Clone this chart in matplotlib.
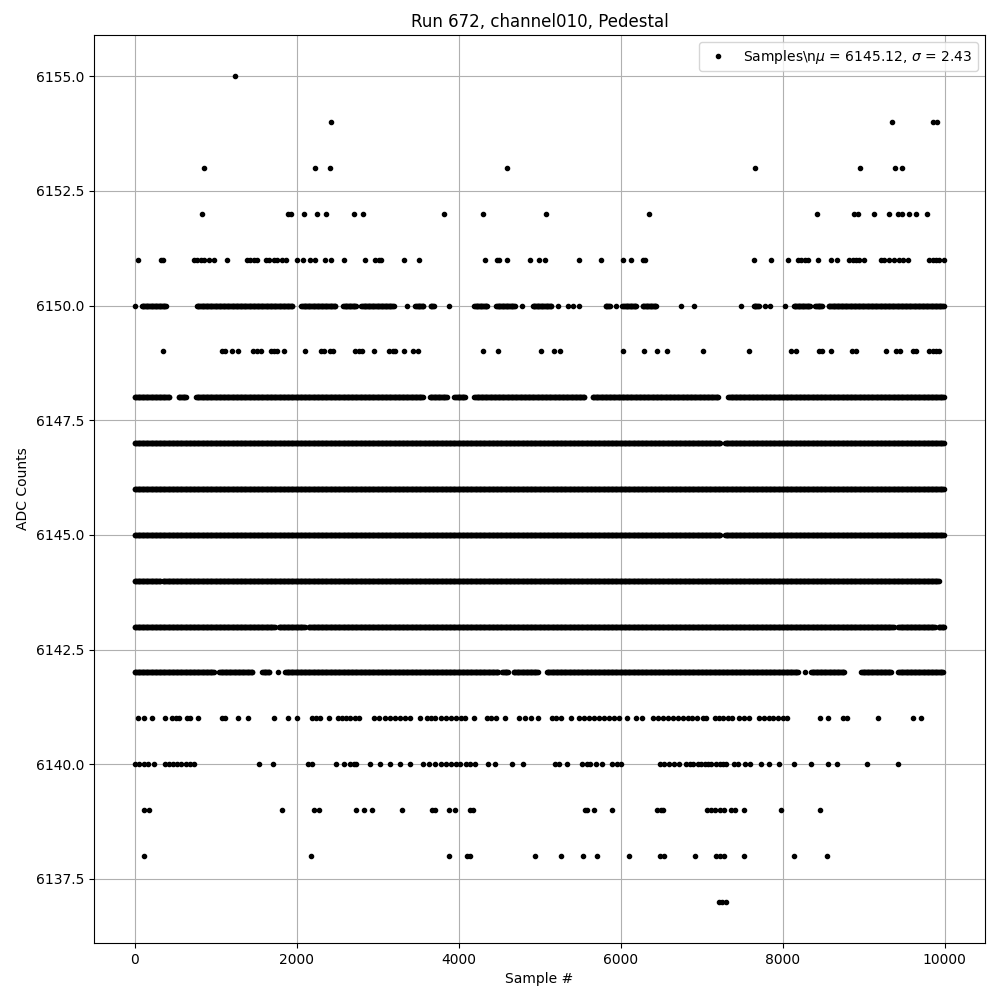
import numpy as np
import matplotlib
matplotlib.use("Agg")
from matplotlib import pyplot as plt

# Values: for every ADC level the sample numbers where
# dots appear.  Dense stretches are stored as (first, last) runs, isolated
# dots as (n, n).
runs_6155 = [(1244, 1244)]
runs_6154 = [(2426, 2426), (9347, 9347), (9852, 9852), (9902, 9902)]
runs_6153 = [(862, 862), (2225, 2225), (2414, 2414), (4594, 4594),
             (7656, 7656), (8953, 8953), (9393, 9393), (9470, 9470)]
runs_6152 = [(837, 837), (1897, 1897), (1938, 1938), (2094, 2094),
             (2254, 2254), (2365, 2365), (2709, 2709), (2820, 2820),
             (3818, 3818), (4298, 4298), (5074, 5074), (6355, 6355),
             (8424, 8424), (8879, 8879), (8937, 8937), (9134, 9134),
             (9310, 9310), (9421, 9421), (9470, 9470), (9557, 9557),
             (9647, 9647), (9778, 9778)]
dots_6151 = [37, 325, 353, 735, 776, 817, 858, 920, 981, 1146, 1384, 1425,
             1474, 1515, 1618, 1659, 1720, 1753, 1823, 1876, 2008, 2082,
             2164, 2234, 2357, 2427, 2587, 2849, 2972, 3013, 3042, 3321,
             3510, 4323, 4471, 4504, 4594, 4877, 4996, 5062, 5493, 5764,
             6035, 6133, 6277, 6302, 7648, 7857, 8067, 8190, 8231, 8272,
             8313, 8436, 8592, 8666, 8826, 8867, 8908, 8949, 9011, 9216,
             9257, 9319, 9380, 9442, 9483, 9544, 9811, 9852, 9893, 9934,
             9988]
runs_6150 = [(0, 0), (90, 395), (770, 1950), (2060, 2480), (2575, 2735),
             (2800, 3200), (3362, 3362), (3467, 3570), (3655, 3700),
             (3880, 3880), (4193, 4362), (4464, 4699), (4779, 4779),
             (4916, 5150), (5234, 5234), (5357, 5357), (5419, 5419),
             (5481, 5481), (5815, 5870), (5949, 5949), (6024, 6197),
             (6271, 6444), (6749, 6749), (6909, 6909), (7492, 7492),
             (7645, 7710), (7779, 7779), (7841, 7841), (8026, 8026),
             (8138, 8344), (8405, 8488), (8569, 9990)]
dots_6149 = [346, 1076, 1117, 1208, 1277, 1466, 1515, 1556, 1680, 1721, 1753,
             1844, 2102, 2304, 2345, 2410, 2451, 2718, 2767, 2809, 2956,
             3137, 3186, 3211, 3321, 3436, 3498, 4298, 4483, 5013, 5181,
             5255, 6035, 6293, 6454, 6577, 7020, 7586, 8108, 8169, 8448,
             8489, 8604, 8859, 8908, 9282, 9401, 9454, 9606, 9647, 9811,
             9852, 9893, 9926]
runs_6148 = [(0, 430), (545, 640), (760, 3560), (3645, 3860), (3950, 4085),
             (4195, 5560), (5655, 7205), (7330, 9999)]
runs_6147 = [(0, 7230), (7290, 9999)]
runs_6146 = [(0, 9999)]
runs_6145 = [(0, 7235), (7290, 9999)]
runs_6144 = [(0, 320), (350, 9934)]
runs_6143 = [(0, 1730), (1780, 2100), (2150, 9370), (9430, 9880),
             (9925, 9999)]
runs_6142 = [(0, 985), (1045, 1455), (1575, 1665), (1770, 1770),
             (1860, 4490), (4540, 4610), (4680, 4980), (5090, 8195),
             (8272, 8272), (8350, 8760), (8970, 9345), (9430, 9985)]
dots_6141 = [38, 120, 210, 378, 469, 510, 551, 645, 686, 789, 1076, 1117,
             1281, 1405, 1725, 1897, 2008, 2193, 2246, 2295, 2402, 2509,
             2562, 2616, 2665, 2718, 2776, 2960, 3022, 3096, 3157, 3211,
             3272, 3334, 3395, 3527, 3609, 3662, 3715, 3785, 3847, 3908,
             3970, 4032, 4085, 4188, 4352, 4401, 4463, 4569, 4750, 4824,
             4894, 4976, 5152, 5202, 5263, 5386, 5489, 5550, 5612, 5673,
             5735, 5797, 5858, 5920, 5981, 6084, 6195, 6261, 6404, 6466,
             6527, 6589, 6651, 6712, 6774, 6835, 6876, 6938, 7020, 7061,
             7163, 7217, 7270, 7324, 7377, 7463, 7525, 7586, 7709, 7771,
             7833, 7882, 7943, 8005, 8058, 8457, 8559, 8744, 8793, 9175,
             9606, 9709]
dots_6140 = [9, 58, 112, 161, 235, 378, 428, 481, 530, 580, 633, 686, 736,
             1536, 1712, 2144, 2185, 2488, 2583, 2657, 2706, 2739, 2903,
             3026, 3157, 3272, 3395, 3560, 3633, 3715, 3785, 3847, 3908,
             3970, 4023, 4093, 4147, 4208, 4360, 4454, 4656, 4791, 5193,
             5242, 5333, 5530, 5583, 5624, 5694, 5776, 5899, 5953, 6010,
             6482, 6536, 6597, 6659, 6721, 6802, 6856, 6897, 6958, 6999,
             7040, 7081, 7122, 7184, 7225, 7266, 7307, 7402, 7451, 7533,
             7595, 7730, 7833, 7956, 8140, 8346, 8559, 8674, 9039, 9421]
dots_6139 = [120, 173, 1823, 2213, 2275, 2735, 2833, 2932, 3301, 3674, 3715,
             3880, 3954, 4147, 4175, 5559, 5591, 5678, 5899, 6454, 6495,
             6523, 7073, 7122, 7172, 7225, 7278, 7360, 7410, 7525, 7980,
             8461]
dots_6138 = [112, 2180, 3880, 4105, 4147, 4939, 5271, 5542, 5715, 6109,
             6482, 6540, 6921, 7176, 7225, 7278, 7525, 8140, 8547]
dots_6137 = [7217, 7258, 7299]

levels = {
    6155: runs_6155, 6154: runs_6154, 6153: runs_6153, 6152: runs_6152,
    6151: [(d, d) for d in dots_6151], 6150: runs_6150,
    6149: [(d, d) for d in dots_6149], 6148: runs_6148, 6147: runs_6147,
    6146: runs_6146, 6145: runs_6145, 6144: runs_6144, 6143: runs_6143,
    6142: runs_6142, 6141: [(d, d) for d in dots_6141],
    6140: [(d, d) for d in dots_6140], 6139: [(d, d) for d in dots_6139],
    6138: [(d, d) for d in dots_6138], 6137: [(d, d) for d in dots_6137],
}

xs, ys = [], []
for adc, runs in levels.items():
    for first, last in runs:
        # every 10th sample is enough to show a solid run of dots
        n = np.arange(first, last + 1, 10)
        xs.append(n)
        ys.append(np.full(len(n), adc))
xs = np.concatenate(xs)
ys = np.concatenate(ys)

fig, ax = plt.subplots(figsize=(10, 10), dpi=100)
fig.subplots_adjust(left=0.094, right=0.985, top=0.965, bottom=0.057)

ax.plot(xs, ys, 'k.', label=r"Samples\n$\mu$ = 6145.12, $\sigma$ = 2.43")
ax.set_xlim(-500, 10499)
ax.set_title("Run 672, channel010, Pedestal")
ax.set_xlabel("Sample #")
ax.set_ylabel("ADC Counts")
ax.grid(True)
ax.legend(loc="upper right")

fig.savefig("out.png")
